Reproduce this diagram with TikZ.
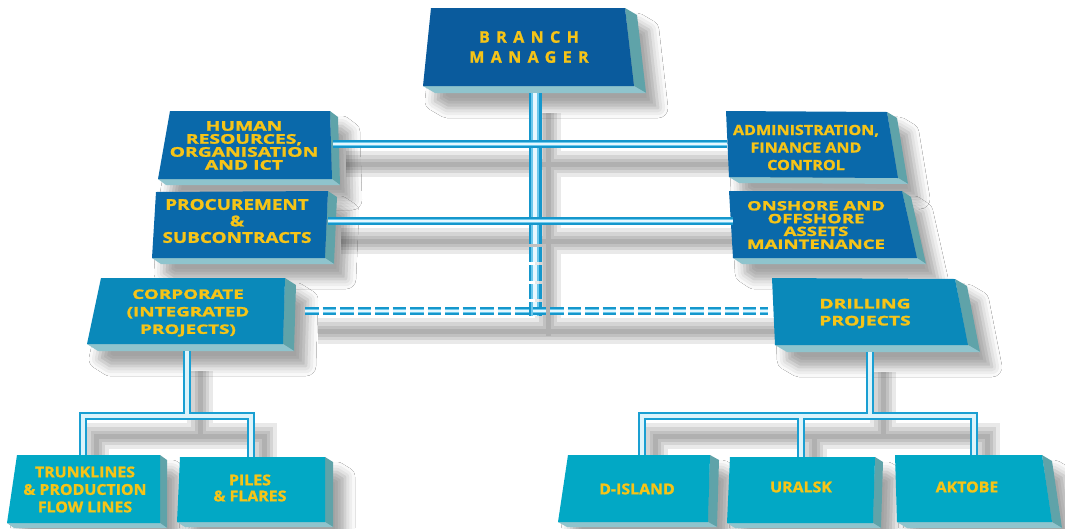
\documentclass[tikz,border=0pt]{standalone}
\usepackage{fontspec}
\setmainfont{Open Sans}
\newfontfamily\fA[FakeStretch=1.45,FakeBold=1.7]{Open Sans}
\newfontfamily\fB[FakeStretch=1.15,FakeBold=1.3]{Open Sans}
\newfontfamily\fC[FakeStretch=1.26,FakeBold=1.4]{Open Sans}
\newfontfamily\fD[FakeStretch=1.06,FakeBold=1.2]{Open Sans}
\newfontfamily\fBM[LetterSpace=40,FakeBold=1.1]{Open Sans}
\usetikzlibrary{calc,shadows.blur}
\definecolor{cBM}{HTML}{0A5B9D}
\definecolor{cL2}{HTML}{0A69AA}
\definecolor{cL3}{HTML}{0A89BA}
\definecolor{cL4}{HTML}{02A8C5}
\definecolor{cSide}{HTML}{5FA3A9}
\definecolor{cBot}{HTML}{8FC4CD}
\definecolor{cTxt}{HTML}{F6C417}
\definecolor{pOut}{HTML}{1597CC}
\definecolor{pMid}{HTML}{6CC8EC}
\definecolor{pIn}{HTML}{E6F8FF}
\definecolor{tOut}{HTML}{1A9FD2}
\definecolor{tIn}{HTML}{DCF4FB}
\tikzset{
  lbl/.style={text=cTxt, align=center, inner sep=0pt},
  boxshadow/.style={blur shadow={shadow xshift=12pt, shadow yshift=-15pt, shadow blur radius=10pt, shadow opacity=36}},
  sideface/.style={fill=cSide},
  botface/.style={fill=cBot},
  pA/.style={draw=pOut, line width=7.5pt},
  pB/.style={draw=pMid, line width=4.5pt},
  pC/.style={draw=pIn, line width=1.6pt},
  tkA/.style={draw=pOut, line width=13pt},
  tkB/.style={draw=pMid, line width=8.5pt},
  tkC/.style={draw=pIn, line width=3.5pt},
  tA/.style={draw=tOut, line width=8.5pt},
  tB/.style={draw=tIn, line width=4pt},
  dashV/.style={dash pattern=on 15.5pt off 3pt},
  dashH/.style={dash pattern=on 13.5pt off 4pt},
  pshadow/.style={draw=black, opacity=0.085},
}
% #1 name, #2 tl, #3 tr, #4 br, #5 bl, #6 depth offset, #7 colour
\newcommand\slabbox[7]{%
  \coordinate (#1-tl) at #2; \coordinate (#1-tr) at #3;
  \coordinate (#1-br) at #4; \coordinate (#1-bl) at #5;
  \coordinate (#1-d) at #6;
  \path[boxshadow] (#1-tl) -- (#1-tr) -- ($(#1-tr)+(#1-d)$) -- ($(#1-br)+(#1-d)$) -- ($(#1-bl)+(#1-d)$) -- (#1-bl) -- cycle;
  \fill[sideface] (#1-tr) -- ($(#1-tr)+(#1-d)$) -- ($(#1-br)+(#1-d)$) -- (#1-br) -- cycle;
  \fill[botface] (#1-bl) -- (#1-br) -- ($(#1-br)+(#1-d)$) -- ($(#1-bl)+(#1-d)$) -- cycle;
  \fill[#7] (#1-tl) -- (#1-tr) -- (#1-br) -- (#1-bl) -- cycle;
}
\begin{document}
\begin{tikzpicture}[x=1pt,y=-1pt]
\useasboundingbox[fill=white] (0,0) rectangle (1065,528);
% connector end points
\coordinate (t0) at (535,93); \coordinate (t1) at (535,228); \coordinate (t2) at (535,316);
\coordinate (hrE) at (333,144); \coordinate (adW) at (727,144);
\coordinate (prE) at (328,221); \coordinate (onW) at (733,221);
\coordinate (coE) at (305,311); \coordinate (drW) at (768,311);
\coordinate (coS) at (187,351); \coordinate (coJ) at (187,416);
\coordinate (trN) at (83,455); \coordinate (piN) at (251,457);
\coordinate (drS) at (870,352); \coordinate (drJ) at (870,416);
\coordinate (diN) at (642,455); \coordinate (urN) at (801,457); \coordinate (akN) at (974,455);
% connector shadows
\begin{scope}[transform canvas={shift={(13,20)}}]
\foreach \w in {26,18,11,5}{
  \draw[pshadow, line width=\w pt] (t0) -- (t2) (hrE) -- (adW) (prE) -- (onW) (coE) -- (drW)
    (coS) -- (coJ) (trN) |- (coJ) -| (piN) (drS) -- (drJ) (diN) |- (drJ) -| (akN) (urN) -- (urN |- drJ);
}
\end{scope}
% boxes
\slabbox{BM}{(431,8)}{(625,8)}{(634,86)}{(423,86)}{(12,7)}{cBM}
\slabbox{HR}{(170,111)}{(330,111)}{(332,179)}{(158,179)}{(8,6)}{cL2}
\slabbox{PR}{(156,192)}{(328,191)}{(325,258)}{(152,258)}{(9,6)}{cL2}
\slabbox{AD}{(726,111)}{(887,112)}{(898,178)}{(729,177)}{(10,6)}{cL2}
\slabbox{ON}{(729,191)}{(902,191)}{(917,258)}{(733,258)}{(9,6)}{cL2}
\slabbox{CO}{(101,278)}{(285,278)}{(283,344)}{(87,344)}{(11,7)}{cL3}
\slabbox{DR}{(772,278)}{(955,279)}{(968,345)}{(775,345)}{(12,7)}{cL3}
\slabbox{TR}{(17,455)}{(160,455)}{(160,523)}{(7,523)}{(7,5)}{cL4}
\slabbox{PI}{(180,457)}{(325,457)}{(325,522)}{(177,522)}{(8,5)}{cL4}
\slabbox{DI}{(568,455)}{(710,455)}{(708,522)}{(558,522)}{(9,5)}{cL4}
\slabbox{UR}{(730,457)}{(875,457)}{(873,523)}{(727,523)}{(8,5)}{cL4}
\slabbox{AK}{(895,455)}{(1042,455)}{(1052,522)}{(897,522)}{(10,6)}{cL4}
% main trunk
\draw[tkA] (t0) -- (t1); \draw[tkB] (t0) -- (t1); \draw[tkC] (t0) -- (t1);
\draw[tkA,dashV] (t1) -- (t2); \draw[tkB,dashV] (t1) -- (t2); \draw[tkC,dashV] (t1) -- (t2);
% horizontal pipes
\foreach \s in {pA,pB,pC}{
  \draw[\s] (hrE) -- (adW);
  \draw[\s] (prE) -- (onW);
  \draw[\s,dashH] (coE) -- (drW);
}
% lower trees
\foreach \s in {tA,tB}{
  \draw[\s] (coS) -- (coJ);
  \draw[\s] (trN) |- (coJ) -| (piN);
  \draw[\s] (drS) -- (drJ);
  \draw[\s] (diN) |- (drJ) -| (akN);
  \draw[\s] (urN) -- (urN |- drJ);
}
% labels
\node[lbl, font={\fBM\bfseries\fontsize{16}{20}\selectfont}] (bm) at (529,47) {BRANCH\\MANAGER};
\node[lbl, font={\fA\bfseries\fontsize{13.3}{13}\selectfont}] (hr) at (244,145.5) {HUMAN\\RESOURCES,\\ORGANISATION\\AND ICT};
\node[lbl, font={\fC\bfseries\fontsize{15}{16.5}\selectfont}] (pr) at (237,221) {PROCUREMENT\\\&\\SUBCONTRACTS};
\node[lbl, font={\fB\bfseries\fontsize{14}{17.5}\selectfont}] (ad) at (806,147.5) {ADMINISTRATION,\\FINANCE AND\\CONTROL};
\node[lbl, font={\fA\bfseries\fontsize{12.8}{12.8}\selectfont}] (on) at (816,225) {ONSHORE AND\\OFFSHORE\\ASSETS\\MAINTENANCE};
\node[lbl, font={\fA\bfseries\fontsize{13}{17.5}\selectfont}] (co) at (188,313) {CORPORATE\\(INTEGRATED\\PROJECTS)};
\node[lbl, font={\fA\bfseries\fontsize{13.3}{17}\selectfont}] (dr) at (865,313.5) {DRILLING\\PROJECTS};
\node[lbl, font={\fD\bfseries\fontsize{15}{17.5}\selectfont}] (tr) at (85,489.5) {TRUNKLINES\\\& PRODUCTION\\FLOW LINES};
\node[lbl, font={\fD\bfseries\fontsize{15}{16}\selectfont}] (pi) at (250,488) {PILES\\\& FLARES};
\node[lbl, font={\fD\bfseries\fontsize{15}{16}\selectfont}] (di) at (637,489) {D-ISLAND};
\node[lbl, font={\fD\bfseries\fontsize{15}{16}\selectfont}] (ur) at (801,487) {URALSK};
\node[lbl, font={\fD\bfseries\fontsize{15}{16}\selectfont}] (ak) at (967,487) {AKTOBE};
\end{tikzpicture}
\end{document}
